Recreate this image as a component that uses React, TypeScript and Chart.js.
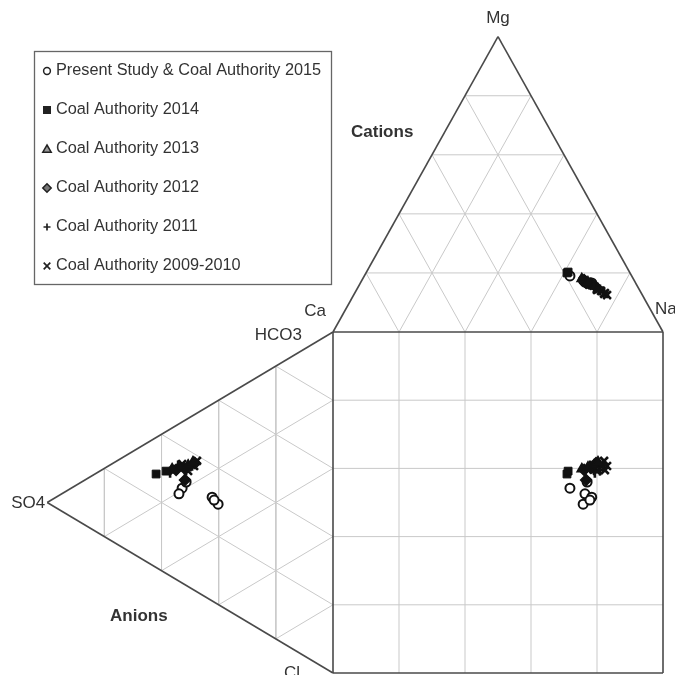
import React, { useEffect, useRef } from 'react';
import { Chart, registerables } from 'chart.js';

Chart.register(...registerables);

// Each sample: [Ca, Mg, Na+K, HCO3, SO4, Cl] in % meq
const seriesLabels = [
  'Present Study & Coal Authority 2015',
  'Coal Authority 2014',
  'Coal Authority 2013',
  'Coal Authority 2012',
  'Coal Authority 2011',
  'Coal Authority 2009-2010',
];

const present2015 = [
  [18.7, 19.0, 62.3, 27.8, 52.8, 19.4],
  [15.2, 16.9, 67.9, 25.6, 53.9, 20.5],
  [13.3, 16.6, 70.1, 30.4, 42.3, 27.3],
  [15.4, 17.6, 67.0, 29.4, 40.2, 30.4],
  [14.0, 16.3, 69.7, 29.9, 41.6, 28.5],
  [14.7, 16.6, 68.7, 30.3, 51.4, 18.3],
];
const coal2014 = [
  [19.1, 20.0, 60.9, 27.4, 61.9, 10.7],
  [18.6, 20.3, 61.1, 30.0, 58.4, 11.6],
];
const coal2013 = [
  [15.6, 18.0, 66.4, 31.7, 56.3, 12.0],
  [14.3, 16.9, 68.8, 33.6, 53.5, 12.9],
  [13.1, 15.6, 71.3, 35.6, 50.7, 13.7],
  [12.4, 14.6, 73.0, 37.4, 49.0, 13.6],
];
const coal2012 = [
  [15.1, 17.6, 67.3, 32.1, 54.9, 13.0],
  [13.7, 16.3, 70.0, 34.1, 52.1, 13.8],
  [12.7, 15.2, 72.1, 37.4, 48.3, 14.3],
  [15.0, 16.6, 68.4, 30.7, 51.8, 17.5],
];
const coal2011 = [
  [13.8, 16.6, 69.6, 33.6, 54.2, 12.2],
  [12.0, 14.2, 73.8, 33.8, 51.4, 14.8],
  [11.4, 13.6, 75.0, 36.3, 49.3, 14.4],
  [13.2, 14.9, 71.9, 30.4, 57.0, 12.6],
];
const coal2009 = [
  [11.4, 12.9, 75.7, 38.4, 47.6, 14.0],
  [10.7, 12.5, 76.8, 36.4, 48.6, 15.0],
  [11.8, 13.9, 74.3, 34.9, 52.8, 12.3],
  [11.0, 13.2, 75.8, 31.7, 55.6, 12.7],
  [12.9, 14.2, 72.9, 33.9, 50.7, 15.4],
];

const gridSteps = [20, 40, 60, 80];

const H = Math.sqrt(3) / 2;

function cat(ca: number, mg: number, na: number) {
  const s = ca + mg + na;
  const m = (mg / s) * 100;
  const n = (na / s) * 100;
  return { x: n + m / 2, y: 100 + m * H };
}
function an(hco3: number, so4: number, cl: number) {
  const s = hco3 + so4 + cl;
  const h = (hco3 / s) * 100;
  const o = (so4 / s) * 100;
  return { x: -o * H, y: h + o / 2 };
}

function samplePoints(rows: number[][]) {
  const pts: { x: number; y: number }[] = [];
  rows.forEach((r) => {
    const c = cat(r[0], r[1], r[2]);
    const a = an(r[3], r[4], r[5]);
    pts.push(c, a, { x: c.x, y: a.y });
  });
  return pts;
}

function seg(p: { x: number; y: number }, q: { x: number; y: number }, color: string, width: number, order: number) {
  return {
    type: 'scatter' as const,
    data: [p, q],
    showLine: true,
    borderColor: color,
    borderWidth: width,
    pointRadius: 0,
    fill: false,
    order,
    clip: false as any,
  };
}

const GRID = '#c9c9c9';
const FRAME = '#4a4a4a';

function buildDatasets() {
  const ds: any[] = [];
  gridSteps.forEach((k) => {
    // cation triangle
    ds.push(seg(cat(100 - k, k, 0), cat(0, k, 100 - k), GRID, 1, 9));
    ds.push(seg(cat(100 - k, 0, k), cat(0, 100 - k, k), GRID, 1, 9));
    ds.push(seg(cat(k, 0, 100 - k), cat(k, 100 - k, 0), GRID, 1, 9));
    // anion triangle
    ds.push(seg(an(100 - k, k, 0), an(0, k, 100 - k), GRID, 1, 9));
    ds.push(seg(an(k, 100 - k, 0), an(k, 0, 100 - k), GRID, 1, 9));
    ds.push(seg(an(100 - k, 0, k), an(0, 100 - k, k), GRID, 1, 9));
    // square
    ds.push(seg({ x: k, y: 0 }, { x: k, y: 100 }, GRID, 1, 9));
    ds.push(seg({ x: 0, y: k }, { x: 100, y: k }, GRID, 1, 9));
  });
  // frames
  ds.push(seg(cat(100, 0, 0), cat(0, 100, 0), FRAME, 1.6, 8));
  ds.push(seg(cat(0, 100, 0), cat(0, 0, 100), FRAME, 1.6, 8));
  ds.push(seg(an(100, 0, 0), an(0, 100, 0), FRAME, 1.6, 8));
  ds.push(seg(an(0, 100, 0), an(0, 0, 100), FRAME, 1.6, 8));
  ds.push(seg({ x: 0, y: 0 }, { x: 100, y: 0 }, FRAME, 1.6, 8));
  ds.push(seg({ x: 100, y: 0 }, { x: 100, y: 100 }, FRAME, 1.6, 8));
  ds.push(seg({ x: 100, y: 100 }, { x: 0, y: 100 }, FRAME, 1.6, 8));
  ds.push(seg({ x: 0, y: 100 }, { x: 0, y: 0 }, FRAME, 1.6, 8));

  const mk = (label: string, rows: number[][], style: string, bg: string, r: number, bw: number, order: number) => ({
    type: 'scatter' as const,
    label,
    data: samplePoints(rows),
    pointStyle: style,
    pointRadius: r,
    pointBackgroundColor: bg,
    pointBorderColor: '#111',
    pointBorderWidth: bw,
    showLine: false,
    order,
    clip: false as any,
  });
  ds.push(mk(seriesLabels[0], present2015, 'circle', '#fff', 4.5, 2, 6));
  ds.push(mk(seriesLabels[5], coal2009, 'crossRot', '#111', 5.5, 2.6, 5));
  ds.push(mk(seriesLabels[4], coal2011, 'cross', '#111', 5.5, 2.6, 4));
  ds.push(mk(seriesLabels[3], coal2012, 'rectRot', '#111', 5.5, 1.5, 3));
  ds.push(mk(seriesLabels[2], coal2013, 'triangle', '#111', 5.5, 1.5, 2));
  ds.push(mk(seriesLabels[1], coal2014, 'rect', '#111', 5.5, 1, 1));
  return ds;
}

const FONT = '"Liberation Sans", Arial, Helvetica, sans-serif';

function drawMarker(ctx: CanvasRenderingContext2D, style: string, x: number, y: number) {
  ctx.save();
  ctx.strokeStyle = '#222';
  ctx.fillStyle = '#222';
  ctx.lineWidth = 1.5;
  ctx.beginPath();
  if (style === 'circle') {
    ctx.fillStyle = '#fff';
    ctx.arc(x, y, 3.4, 0, Math.PI * 2);
    ctx.fill();
    ctx.stroke();
  } else if (style === 'rect') {
    ctx.fillRect(x - 4, y - 4, 8, 8);
  } else if (style === 'triangle') {
    ctx.moveTo(x, y - 4);
    ctx.lineTo(x + 4.2, y + 3.2);
    ctx.lineTo(x - 4.2, y + 3.2);
    ctx.closePath();
    ctx.fillStyle = '#999';
    ctx.fill();
    ctx.stroke();
  } else if (style === 'rectRot') {
    ctx.moveTo(x, y - 4.2);
    ctx.lineTo(x + 4.2, y);
    ctx.lineTo(x, y + 4.2);
    ctx.lineTo(x - 4.2, y);
    ctx.closePath();
    ctx.fillStyle = '#777';
    ctx.fill();
    ctx.stroke();
  } else if (style === 'cross') {
    ctx.moveTo(x - 3.5, y);
    ctx.lineTo(x + 3.5, y);
    ctx.moveTo(x, y - 3.5);
    ctx.lineTo(x, y + 3.5);
    ctx.lineWidth = 1.7;
    ctx.stroke();
  } else if (style === 'crossRot') {
    ctx.moveTo(x - 3.3, y - 3.3);
    ctx.lineTo(x + 3.3, y + 3.3);
    ctx.moveTo(x + 3.3, y - 3.3);
    ctx.lineTo(x - 3.3, y + 3.3);
    ctx.lineWidth = 1.7;
    ctx.stroke();
  }
  ctx.restore();
}

const legendStyles = ['circle', 'rect', 'triangle', 'rectRot', 'cross', 'crossRot'];

const overlayPlugin = {
  id: 'durovOverlay',
  afterDraw(chart: any) {
    const ctx: CanvasRenderingContext2D = chart.ctx;
    const xs = chart.scales.x;
    const ys = chart.scales.y;
    const px = (p: { x: number; y: number }) => ({ x: xs.getPixelForValue(p.x), y: ys.getPixelForValue(p.y) });

    // legend box
    ctx.save();
    ctx.strokeStyle = '#666';
    ctx.lineWidth = 1.3;
    ctx.strokeRect(34.5, 51.5, 297, 233);
    ctx.font = `16.3px ${FONT}`;
    ctx.textBaseline = 'middle';
    ctx.textAlign = 'left';
    seriesLabels.forEach((lab, i) => {
      const y = 71 + i * 39;
      drawMarker(ctx, legendStyles[i], 47, y);
      ctx.fillStyle = '#333';
      ctx.fillText(lab, 56, y);
    });
    ctx.restore();

    // vertex and field labels
    ctx.save();
    ctx.fillStyle = '#333';
    ctx.textBaseline = 'middle';
    ctx.font = `17px ${FONT}`;
    const mg = px(cat(0, 100, 0));
    ctx.textAlign = 'center';
    ctx.fillText('Mg', mg.x, mg.y - 18);
    const ca = px(cat(100, 0, 0));
    ctx.textAlign = 'right';
    ctx.fillText('Ca', ca.x - 7, ca.y - 21);
    ctx.fillText('HCO3', ca.x - 31, ca.y + 3);
    const na = px(cat(0, 0, 100));
    ctx.textAlign = 'left';
    ctx.fillText('Na', na.x - 8, na.y - 23);
    const so4 = px(an(0, 100, 0));
    ctx.textAlign = 'right';
    ctx.fillText('SO4', so4.x - 2, so4.y + 1);
    const cl = px(an(0, 0, 100));
    ctx.textAlign = 'center';
    ctx.fillText('Cl', cl.x - 41, cl.y);
    ctx.font = `bold 17px ${FONT}`;
    ctx.textAlign = 'left';
    ctx.fillText('Cations', 351, 132);
    ctx.fillText('Anions', 110, 616);
    ctx.restore();
  },
};

export default function App() {
  const ref = useRef<HTMLCanvasElement | null>(null);
  useEffect(() => {
    if (!ref.current) return;
    const chart = new Chart(ref.current, {
      type: 'scatter',
      data: { datasets: buildDatasets() },
      options: {
        animation: false,
        responsive: false,
        devicePixelRatio: 1,
        layout: { padding: 0, autoPadding: false },
        events: [],
        plugins: { legend: { display: false }, tooltip: { enabled: false } },
        scales: {
          x: { type: 'linear', min: -100.909, max: 103.636, display: false },
          y: { type: 'linear', min: -0.587, max: 197.36, display: false },
        },
      },
      plugins: [overlayPlugin],
    } as any);
    return () => chart.destroy();
  }, []);
  return (
    <div style={{ position: 'fixed', left: 0, top: 0, width: 675, height: 675, background: '#fff' }}>
      <canvas ref={ref} width={675} height={675} />
    </div>
  );
}
